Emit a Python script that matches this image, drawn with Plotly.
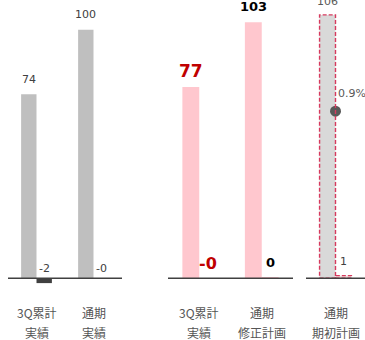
import plotly.graph_objects as go

# ---- data -------------------------------------------------------------
cats_result = ["3Q累計<br>実績", "通期<br>実績"]
cats_plan = ["3Q累計<br>実績", "通期<br>修正計画"]
cats_initial = ["通期<br>期初計画"]

result_main = [74, 100]
result_diff = [-2, -0.3]
plan_main = [77, 103]
plan_diff = [-0.3, 0.2]
initial_main = [106]
initial_diff = [1]
initial_rate = [0.9]  # percent, plotted on the secondary axis

# ---- styling ----------------------------------------------------------
W = 0.27                      # width of one bar in category units
NUM_FONT = "DejaVu Sans"
CJK_FONT = "Noto Sans CJK JP"
GRAY_BAR = "#BFBFBF"
DARK = "#404040"
PINK = "#FFC7CE"
RED = "#C00000"
DASH_RED = "#D63A5E"
Y_RANGE = [-8, 112]

fig = go.Figure()

def pair(cats, main, diff, main_color, diff_color, xa):
    fig.add_trace(go.Bar(x=cats, y=main, width=W, offset=-W,
                         marker=dict(color=main_color, line_width=0),
                         xaxis=xa, yaxis="y", hoverinfo="skip"))
    fig.add_trace(go.Bar(x=cats, y=diff, width=W, offset=0,
                         marker=dict(color=diff_color, line_width=0),
                         xaxis=xa, yaxis="y", hoverinfo="skip"))

pair(cats_result, result_main, result_diff, GRAY_BAR, DARK, "x")
pair(cats_plan, plan_main, plan_diff, PINK, PINK, "x2")
pair(cats_initial, initial_main, initial_diff, "#D9D9D9", "#F2DCDB", "x3")

# ratio marker
fig.add_trace(go.Scatter(x=cats_initial, y=initial_rate, mode="markers",
                         marker=dict(size=11, color="#595959"),
                         xaxis="x3", yaxis="y2", hoverinfo="skip"))

shapes = []
dash_line = dict(color=DASH_RED, width=1.4, dash="4px,2px")
# dashed outlines of the initial-plan bars
for i, v in enumerate(initial_main):
    shapes.append(dict(type="rect", xref="x3", yref="y", x0=i - W, x1=i,
                       y0=0, y1=v, line=dash_line))
for i, v in enumerate(initial_diff):
    shapes.append(dict(type="rect", xref="x3", yref="y", x0=i, x1=i + W,
                       y0=0, y1=v, line=dash_line))
# zero baselines
for xa in ["x", "x2", "x3"]:
    shapes.append(dict(type="line", xref=f"{xa} domain", yref="y", x0=0, x1=1,
                       y0=0, y1=0, line=dict(color=DARK, width=1.5), layer="above"))

ann = []

def label(xa, x, y, text, size, color, yshift, bold=False, yref="y", xanchor="center"):
    if bold:
        text = f"<b>{text}</b>"
    ann.append(dict(xref=xa, yref=yref, x=x, y=y, text=text, showarrow=False,
                    xanchor=xanchor, yanchor="middle", yshift=yshift,
                    font=dict(family=NUM_FONT, size=size, color=color)))

# left panel
for i, v in enumerate(result_main):
    label("x", i - W / 2, v, f"{v:.0f}", 11, DARK, 15)
for i, v in enumerate(result_diff):
    label("x", i + W / 2, max(v, 0), f"{v:.0f}", 11, DARK, 10)

# middle panel
plan_main_style = [(17, RED), (13, "#000000")]
plan_diff_style = [(16, RED), (13, "#000000")]
for i, v in enumerate(plan_main):
    s, c = plan_main_style[i]
    label("x2", i - W / 2, v, f"{v:.0f}", s, c, 16, bold=True)
for i, v in enumerate(plan_diff):
    s, c = plan_diff_style[i]
    label("x2", i + W / 2, max(v, 0), f"{v:.0f}", s, c, 15, bold=True)

# right panel
for i, v in enumerate(initial_main):
    label("x3", i - W / 2, v, f"{v:.0f}", 11, "#595959", 13)
for i, v in enumerate(initial_diff):
    label("x3", i + W / 2, v, f"{v:.0f}", 11, DARK, 14)
for i, v in enumerate(initial_rate):
    label("x3", i, v, f"{v:.1f}%", 11, "#595959", 18, yref="y2", xanchor="left")

# two-line category labels under each panel
for xa, cats in [("x", cats_result), ("x2", cats_plan), ("x3", cats_initial)]:
    for cat in cats:
        for k, line in enumerate(cat.split("<br>")):
            ann.append(dict(xref=xa, yref="paper", x=cat, y=0, text=line,
                            showarrow=False, xanchor="center", yanchor="middle",
                            yshift=-14 - 20 * k,
                            font=dict(family=CJK_FONT, size=12, color="#555555")))

# secondary axis scaled so the rate marker sits at its level in the panel
y2_range = [-0.108, 1.5]

axis_common = dict(type="category", showgrid=False, zeroline=False, showline=False,
                   showticklabels=False, ticks="", fixedrange=True)
fig.update_layout(
    width=365, height=340,
    margin=dict(l=0, r=0, t=0, b=42),
    paper_bgcolor="white", plot_bgcolor="white",
    showlegend=False, barmode="overlay",
    xaxis=dict(domain=[8 / 365, 122 / 365], range=[-0.5, 1.5], anchor="y", **axis_common),
    xaxis2=dict(domain=[168 / 365, 293 / 365], range=[-0.5, 1.5], anchor="y", **axis_common),
    xaxis3=dict(domain=[306 / 365, 1.0], range=[-0.5, 0.5], anchor="y", **axis_common),
    yaxis=dict(range=Y_RANGE, visible=False, fixedrange=True),
    yaxis2=dict(range=y2_range, overlaying="y", anchor="x3", visible=False, fixedrange=True),
    shapes=shapes,
    annotations=ann,
)

fig.write_html("out.html", config={"displayModeBar": False})
